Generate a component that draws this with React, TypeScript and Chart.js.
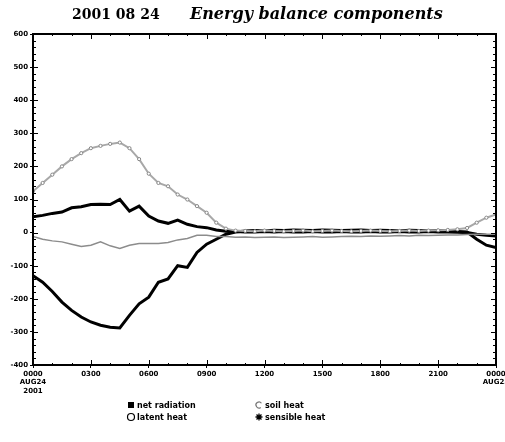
import React, { useEffect, useRef } from "react";
import { Chart, registerables } from "chart.js";

Chart.register(...registerables);

// Time in hours (UTC) from 0000 Aug 24 to 0000 Aug 25, half-hourly
const hours = [
  0, 0.5, 1, 1.5, 2, 2.5, 3, 3.5, 4, 4.5, 5, 5.5, 6, 6.5, 7, 7.5, 8, 8.5, 9, 9.5,
  10, 10.5, 11, 11.5, 12, 12.5, 13, 13.5, 14, 14.5, 15, 15.5, 16, 16.5, 17, 17.5,
  18, 18.5, 19, 19.5, 20, 20.5, 21, 21.5, 22, 22.5, 23, 23.5, 24,
];

const netRadiation = [
  -130, -150, -178, -210, -235, -255, -270, -280, -286, -288,
  -250, -215, -195, -150, -140, -100, -105, -60, -35, -20, -5,
  2, 5, 6, 5, 7, 6, 8, 7, 6, 8, 7, 6, 7, 8, 6, 7, 6, 5, 7, 6, 5, 6, 4, 3, 2,
  -20, -38, -45,
];

const latentHeat = [
  125, 150, 175, 200, 222, 240, 255, 262, 268, 272,
  255, 222, 178, 150, 140, 115, 100, 80, 60, 30, 12,
  6, 5, 4, 6, 5, 4, 5, 6, 4, 5, 6, 5, 4, 5, 6, 5, 4, 5, 6, 5, 6, 7, 8, 10, 14,
  30, 45, 55,
];

const soilHeat = [
  -12, -20, -25, -28, -35, -42, -38, -28, -40, -48,
  -38, -33, -33, -33, -30, -22, -18, -8, -8, -12, -12,
  -14, -13, -15, -14, -13, -15, -14, -13, -12, -14, -13, -12, -11, -12, -10, -11, -10, -9, -10, -8, -9, -8, -7, -7, -6,
  -5, -5, -5,
];

const sensibleHeat = [
  48, 52, 58, 62, 75, 78, 85, 86, 85, 100,
  65, 80, 50, 35, 28, 38, 25, 18, 15, 8, 4,
  3, 2, 2, 3, 2, 3, 2, 2, 3, 2, 2, 3, 2, 2, 3, 2, 2, 3, 2, 2, 3, 2, 2, 1, 0,
  -5, -8, -10,
];

const xTickLabels: (string | string[])[] = [
  ["0000", "AUG24", "2001"],
  "0300",
  "0600",
  "0900",
  "1200",
  "1500",
  "1800",
  "2100",
  ["0000", "AUG25"],
];

const yMin = -400;
const yMax = 600;
const yStep = 100;

const titleDate = "2001 08 24";
const titleText = "Energy balance components";

const seriesNames = ["net radiation", "soil heat", "latent heat", "sensible heat"];

const toPoints = (ys: number[]) => ys.map((y, i) => ({ x: hours[i], y }));

const framePlugin = {
  id: "frame",
  afterDraw(chart: any) {
    const { ctx, chartArea: a, scales } = chart;
    const ys = scales.y;
    const xs = scales.x;
    ctx.save();
    ctx.strokeStyle = "#000";
    ctx.lineWidth = 2;
    ctx.strokeRect(a.left, a.top, a.right - a.left, a.bottom - a.top);
    ctx.lineWidth = 1;
    ctx.beginPath();
    for (let v = yMin; v <= yMax; v += 20) {
      const py = Math.round(ys.getPixelForValue(v)) + 0.5;
      const len = v % 100 === 0 ? 5 : 3;
      ctx.moveTo(a.left, py);
      ctx.lineTo(a.left + len, py);
      ctx.moveTo(a.right, py);
      ctx.lineTo(a.right - len, py);
    }
    for (let h = 0; h <= 24; h += 1) {
      const px = Math.round(xs.getPixelForValue(h)) + 0.5;
      const len = h % 3 === 0 ? 5 : 2;
      ctx.moveTo(px, a.bottom);
      ctx.lineTo(px, a.bottom - len);
      ctx.moveTo(px, a.top);
      ctx.lineTo(px, a.top + len);
    }
    ctx.stroke();

    // title
    ctx.fillStyle = "#000";
    ctx.textBaseline = "alphabetic";
    ctx.textAlign = "left";
    ctx.font = 'bold 14px "DejaVu Serif"';
    ctx.fillText(titleDate, 72, 19);
    ctx.font = 'italic bold 16px "DejaVu Serif"';
    ctx.fillText(titleText, 190, 19);

    // legend
    ctx.font = 'bold 8px "DejaVu Sans"';
    ctx.textBaseline = "middle";
    const rows = [405, 417];
    const cols = [131, 259];
    const place = [
      [cols[0], rows[0]],
      [cols[1], rows[0]],
      [cols[0], rows[1]],
      [cols[1], rows[1]],
    ];
    place.forEach(([x, y], i) => {
      ctx.lineWidth = 1.2;
      if (i === 0) {
        ctx.fillStyle = "#000";
        ctx.fillRect(x - 3, y - 3, 6, 6);
      } else if (i === 1) {
        ctx.strokeStyle = "#777";
        ctx.beginPath();
        ctx.arc(x, y, 3, 0.3 * Math.PI, 1.8 * Math.PI);
        ctx.stroke();
      } else if (i === 2) {
        ctx.strokeStyle = "#000";
        ctx.beginPath();
        ctx.arc(x, y, 3.5, 0, 2 * Math.PI);
        ctx.stroke();
      } else {
        ctx.strokeStyle = "#000";
        ctx.lineWidth = 1.3;
        ctx.beginPath();
        for (let k = 0; k < 4; k++) {
          const ang = (k * Math.PI) / 4;
          ctx.moveTo(x - 3.5 * Math.cos(ang), y - 3.5 * Math.sin(ang));
          ctx.lineTo(x + 3.5 * Math.cos(ang), y + 3.5 * Math.sin(ang));
        }
        ctx.stroke();
      }
      ctx.fillStyle = "#000";
      ctx.fillText(seriesNames[i], x + 6, y + 0.5);
    });
    ctx.restore();
  },
};

export default function App() {
  const canvasRef = useRef<HTMLCanvasElement | null>(null);

  useEffect(() => {
    if (!canvasRef.current) return;
    const chart = new Chart(canvasRef.current, {
      type: "line",
      data: {
        datasets: [
          {
            label: seriesNames[2],
            data: toPoints(latentHeat),
            borderColor: "#a8a8a8",
            borderWidth: 2,
            pointRadius: 1.6,
            pointStyle: "circle",
            pointBorderColor: "#888",
            pointBackgroundColor: "#fff",
            pointBorderWidth: 1,
            tension: 0,
          },
          {
            label: seriesNames[1],
            data: toPoints(soilHeat),
            borderColor: "#8c8c8c",
            borderWidth: 1.5,
            pointRadius: 0,
            tension: 0,
          },
          {
            label: seriesNames[3],
            data: toPoints(sensibleHeat),
            borderColor: "#000",
            borderWidth: 3,
            pointRadius: 0,
            tension: 0,
          },
          {
            label: seriesNames[0],
            data: toPoints(netRadiation),
            borderColor: "#000",
            borderWidth: 3,
            pointRadius: 0,
            tension: 0,
          },
        ],
      },
      options: {
        responsive: false,
        animation: false,
        layout: { padding: { top: 34, right: 9, left: 0, bottom: 0 } },
        plugins: {
          legend: { display: false },
          title: { display: false },
          tooltip: { enabled: false },
        },
        scales: {
          x: {
            type: "linear",
            min: 0,
            max: 24,
            afterFit: (scale: any) => {
              scale.height = 77;
              scale.paddingLeft = 0;
              scale.paddingRight = 0;
            },
            afterBuildTicks: (scale: any) => {
              scale.ticks = [0, 3, 6, 9, 12, 15, 18, 21, 24].map((v) => ({ value: v }));
            },
            ticks: {
              color: "#000",
              font: { family: "DejaVu Sans", size: 7, weight: "bold" },
              padding: 2,
              maxRotation: 0,
              autoSkip: false,
              callback: (_v: any, i: number) => xTickLabels[i],
            },
            grid: { display: true, drawOnChartArea: false, drawTicks: true, tickLength: 3, color: "#000" },
            border: { display: true, color: "#000", width: 2 },
          },
          y: {
            min: yMin,
            max: yMax,
            afterFit: (scale: any) => {
              scale.width = 33;
              scale.paddingTop = 0;
              scale.paddingBottom = 0;
            },
            ticks: {
              stepSize: yStep,
              color: "#000",
              font: { family: "DejaVu Sans", size: 7, weight: "bold" },
              padding: 2,
            },
            grid: { display: true, drawOnChartArea: false, drawTicks: true, tickLength: 3, color: "#000" },
            border: { display: true, color: "#000", width: 2 },
          },
        },
      },
      plugins: [framePlugin],
    });
    return () => chart.destroy();
  }, []);

  return (
    <div style={{ position: "absolute", left: 0, top: 0, width: 505, height: 442, background: "#fff" }}>
      <canvas ref={canvasRef} width={505} height={442} />
    </div>
  );
}
